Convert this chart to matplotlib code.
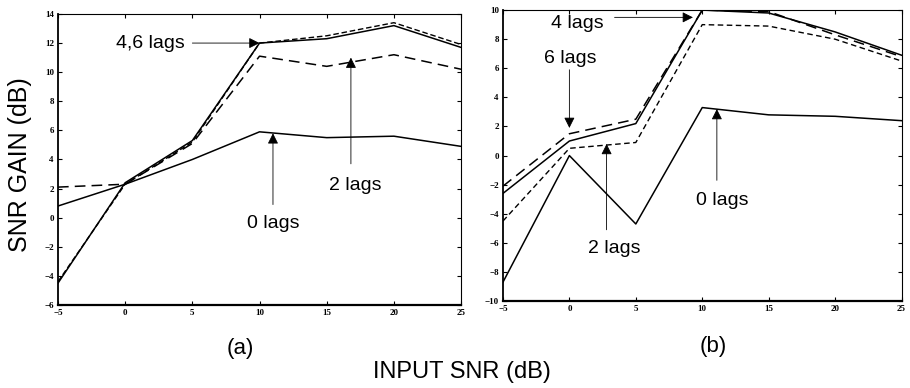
import matplotlib
matplotlib.use("Agg")
import matplotlib.pyplot as plt

# input SNR (dB), shared by both panels
snr_in = [-5, 0, 5, 10, 15, 20, 25]

# panel (a) SNR gain (dB)
a_lag0 = [0.8, 2.3, 4.0, 5.9, 5.5, 5.6, 4.9]
a_lag2 = [2.1, 2.3, 5.1, 11.1, 10.4, 11.2, 10.2]
a_lag4 = [-4.5, 2.4, 5.3, 12.0, 12.3, 13.2, 11.7]
a_lag6 = [-4.4, 2.3, 5.2, 12.0, 12.5, 13.4, 11.9]

# panel (b) SNR gain (dB)
b_lag0 = [-8.7, 0.0, -4.7, 3.3, 2.8, 2.7, 2.4]
b_lag2 = [-4.5, 0.5, 0.9, 9.0, 8.9, 8.0, 6.5]
b_lag4 = [-2.6, 1.0, 2.2, 10.0, 9.8, 8.5, 6.9]
b_lag6 = [-2.1, 1.5, 2.5, 10.0, 9.9, 8.3, 6.8]

xticks = [-5, 0, 5, 10, 15, 20, 25]
a_yticks = [-6, -4, -2, 0, 2, 4, 6, 8, 10, 12, 14]
b_yticks = [-10, -8, -6, -4, -2, 0, 2, 4, 6, 8, 10]

label_font = "Liberation Sans"
tick_font = "Liberation Serif"

fig = plt.figure(figsize=(9.1, 3.88), dpi=100)
ax_a = fig.add_axes([0.0637, 0.214, 0.443, 0.750])
ax_b = fig.add_axes([0.5527, 0.224, 0.438, 0.750])


def style_axes(ax, yticks, ylim):
    ax.set_xlim(-5, 25)
    ax.set_ylim(*ylim)
    ax.set_xticks(xticks)
    ax.set_yticks(yticks)
    ax.tick_params(direction="in", length=3, width=0.8, top=True, right=True,
                   labelsize=6.5, pad=3)
    for lab in ax.get_xticklabels() + ax.get_yticklabels():
        lab.set_fontfamily(tick_font)
        lab.set_fontweight("bold")
    for sp in ax.spines.values():
        sp.set_linewidth(0.8)
    ax.spines["bottom"].set_linewidth(1.6)
    ax.spines["left"].set_linewidth(1.3)


def arrow(ax, tip, tail):
    ax.annotate("", xy=tip, xytext=tail,
                arrowprops=dict(arrowstyle="-|>", lw=0.6, color="black",
                                mutation_scale=16, shrinkA=0, shrinkB=0))


def label(ax, x, y, s):
    ax.text(x, y, s, ha="center", va="center", fontsize=14,
            family=label_font)


# ---- panel (a)
ax_a.plot(snr_in, a_lag0, color="black", lw=1.1)
ax_a.plot(snr_in, a_lag2, color="black", lw=1.1, dashes=(7, 4))
ax_a.plot(snr_in, a_lag4, color="black", lw=1.1)
ax_a.plot(snr_in, a_lag6, color="black", lw=1.0, dashes=(4, 2))
style_axes(ax_a, a_yticks, (-6, 14))

label(ax_a, 1.9, 12.0, "4,6 lags")
arrow(ax_a, (10.0, 12.0), (5.0, 12.0))
label(ax_a, 17.1, 2.2, "2 lags")
arrow(ax_a, (16.8, 11.0), (16.8, 3.7))
label(ax_a, 11.0, -0.4, "0 lags")
arrow(ax_a, (11.0, 5.8), (11.0, 0.9))

# ---- panel (b)
ax_b.plot(snr_in, b_lag0, color="black", lw=1.1)
ax_b.plot(snr_in, b_lag2, color="black", lw=1.0, dashes=(4, 2.5))
ax_b.plot(snr_in, b_lag4, color="black", lw=1.1)
ax_b.plot(snr_in, b_lag6, color="black", lw=1.1, dashes=(7, 4))
style_axes(ax_b, b_yticks, (-10, 10))

label(ax_b, 0.6, 9.1, "4 lags")
arrow(ax_b, (9.3, 9.5), (3.4, 9.5))
label(ax_b, 0.1, 6.7, "6 lags")
arrow(ax_b, (0.0, 1.9), (0.0, 5.9))
label(ax_b, 3.4, -6.4, "2 lags")
arrow(ax_b, (2.8, 0.8), (2.8, -5.1))
label(ax_b, 11.5, -3.1, "0 lags")
arrow(ax_b, (11.1, 3.2), (11.1, -1.7))

# ---- figure labels
fig.text(0.022, 0.575, "SNR GAIN (dB)", rotation=90, ha="center", va="center",
         fontsize=18, family=label_font)
fig.text(0.508, 0.041, "INPUT SNR (dB)", ha="center", va="center",
         fontsize=17, family=label_font)
fig.text(0.264, 0.103, "(a)", ha="center", va="center", fontsize=16,
         family=label_font)
fig.text(0.784, 0.106, "(b)", ha="center", va="center", fontsize=16,
         family=label_font)

fig.savefig("out.png", dpi=100)
